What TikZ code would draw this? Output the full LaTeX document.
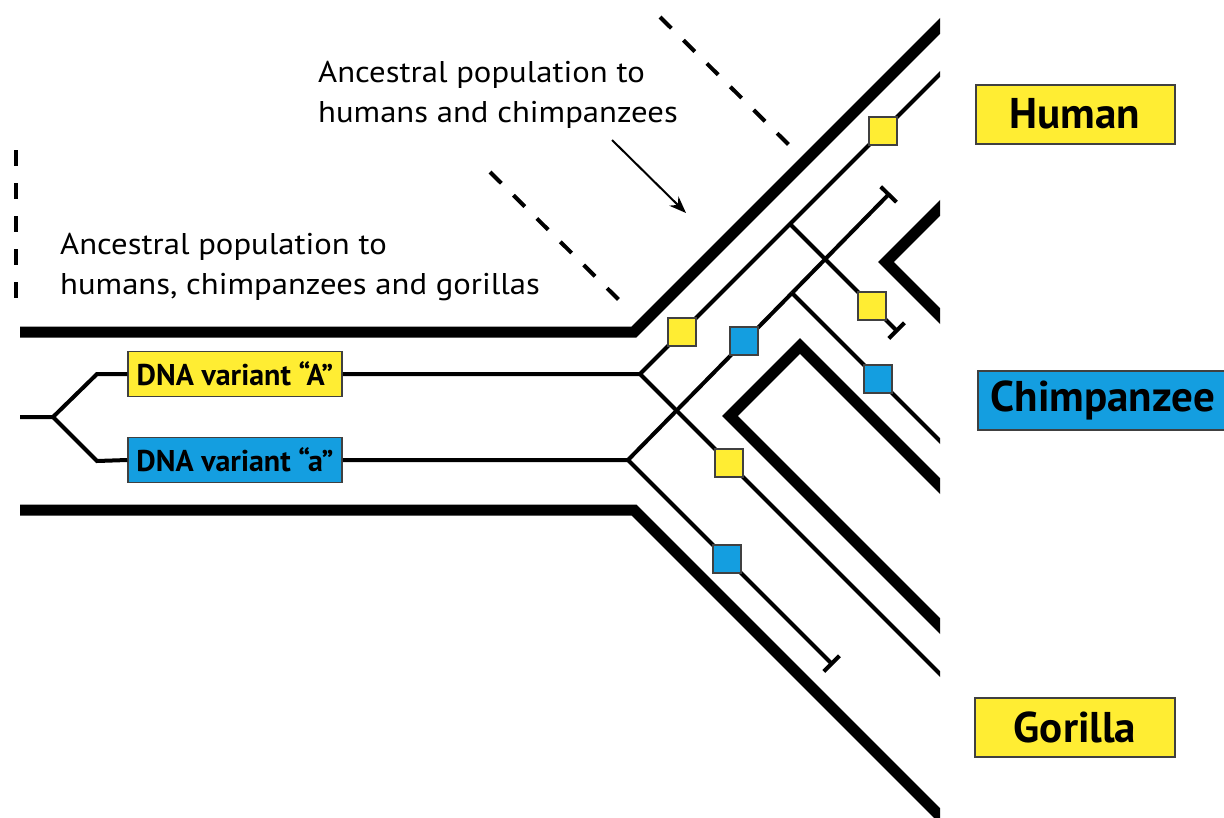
\documentclass[tikz,border=0pt]{standalone}
\usepackage{fontspec}
\setmainfont{PT Sans}
\newfontfamily\capfont[FakeStretch=1.09]{PT Sans}
\usetikzlibrary{arrows.meta}
\definecolor{varyellow}{RGB}{255,237,51}
\definecolor{varblue}{RGB}{20,158,224}
\begin{document}
\begin{tikzpicture}[x=1pt,y=-1pt,
  popwall/.style={line width=11pt, line join=miter},
  lineage/.style={line width=4pt},
  extinct/.style={lineage, -{Bar[width=22pt]}},
  guide/.style={line width=4pt, dash pattern=on 16pt off 17pt},
  marker/.style={draw=black!75, line width=1.3pt, minimum size=28pt, inner sep=0pt},
  ymark/.style={marker, fill=varyellow},
  bmark/.style={marker, fill=varblue},
  variant/.style={draw=black!75, line width=1.5pt, inner sep=0pt, minimum width=214pt, minimum height=45pt,
    font=\bfseries\fontsize{30}{34}\selectfont},
  species/.style={draw=black!75, line width=2pt, inner sep=0pt, minimum height=59pt,
    font=\bfseries\fontsize{43}{48}\selectfont},
  caption/.style={anchor=north west, align=left, inner sep=0pt, font=\capfont\fontsize{30}{40}\selectfont}
]
\useasboundingbox (0,0) rectangle (1224,817);

% junction points of the lineages
\coordinate (root)   at (20,417);
\coordinate (split)  at (53,417);
\coordinate (upA)    at (97,374);
\coordinate (dnA)    at (97,461);
\coordinate (forkA)  at (640,374);
\coordinate (forka)  at (628,460);
\coordinate (forkHA) at (790,224);
\coordinate (forkHa) at (792,293);
\coordinate (endHA)  at (954,60);
\coordinate (endA)   at (954,688);
\coordinate (endHa)  at (960,461);
\coordinate (deadA)  at (898,332);
\coordinate (deada)  at (890,193);
\coordinate (deadG)  at (833,665);

% variant labels
\node[variant, fill=varyellow] (varA) at (235,374) {DNA variant “A”};
\node[variant, fill=varblue]   (vara) at (235,460) {DNA variant “a”};

\begin{scope}
  \clip (0,0) rectangle (940,817);
  % population boundaries
  \draw[popwall] (20,332) -- (634,332) -- (954,12);
  \draw[popwall] (20,510) -- (634,510) -- (954,830);
  \draw[popwall] (954,194) -- (886,262) -- (954,330);
  \draw[popwall] (954,500) -- (800,346) -- (730,416) -- (954,640);
  % gene lineages
  \draw[lineage] (root) -- (split) -- (upA) -- (varA.west);
  \draw[lineage] (split) -- (dnA) -- (vara.west);
  \draw[lineage] (varA.east) -- (forkA) -- (forkHA) -- (endHA);
  \draw[lineage] (forkA) -- (endA);
  \draw[lineage] (vara.east) -- (forka) -- (forkHa);
  \draw[lineage] (forkHa) -- (endHa);
\end{scope}
\draw[extinct] (forkHA) -- (deadA);
\draw[extinct] (forkHa) -- (deada);
\draw[extinct] (forka) -- (deadG);

% markers of the variant carried by each lineage
\node[ymark] (mA1) at (682,332) {};
\node[bmark] (ma1) at (744,341) {};
\node[ymark] (mA2) at (883,131) {};
\node[ymark] (mA3) at (872,306) {};
\node[bmark] (ma2) at (878,379) {};
\node[ymark] (mA4) at (729,463) {};
\node[bmark] (ma3) at (727,559) {};

% dashed guides
\draw[guide] (16,150) -- (16,300);
\draw[guide] (490,172) -- (620,301);
\draw[guide] (660,17) -- (790,146);

% captions
\node[caption] (capHCG) at (60,233) {Ancestral population to\\humans, chimpanzees and gorillas};
\node[caption] (capHC) at (318,61) {Ancestral population to\\humans and chimpanzees};
\coordinate (arrowtip) at (686,213);
\draw[line width=2pt, -{Stealth[length=17pt,width=13pt]}] (612,140) -- (arrowtip);

% species
\node[species, fill=varyellow, minimum width=199pt] (human) at (1075,114) {Human};
\node[species, fill=varblue, minimum width=250pt, anchor=west] (chimp) at (977,400) {Chimpanzee};
\node[species, fill=varyellow, minimum width=200pt] (gorilla) at (1075,727) {Gorilla};
\end{tikzpicture}
\end{document}
